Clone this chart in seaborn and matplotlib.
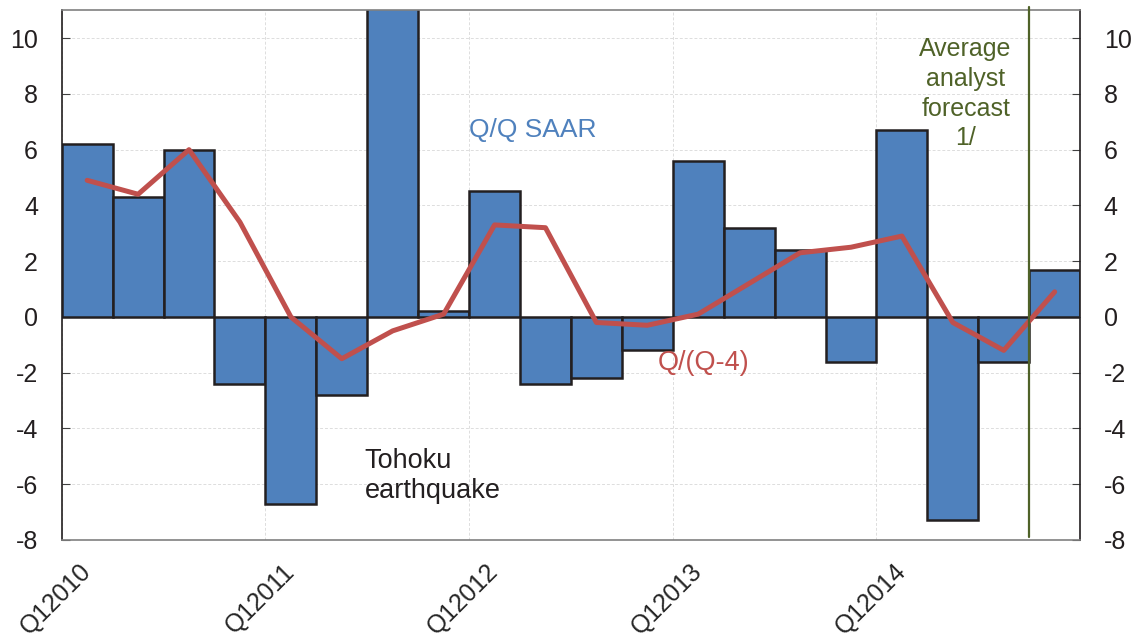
import numpy as np
import pandas as pd
import matplotlib
matplotlib.use("Agg")
import matplotlib.pyplot as plt
import seaborn as sns

quarters = [f"Q{q}{y}" for y in range(2010, 2015) for q in range(1, 5)]
saar = [6.2, 4.3, 6.0, -2.4, -6.7, -2.8, 11.5, 0.2, 4.5, -2.4,
        -2.2, -1.2, 5.6, 3.2, 2.4, -1.6, 6.7, -7.3, -1.6, 1.7]
yoy = [4.9, 4.4, 6.0, 3.4, 0.0, -1.5, -0.5, 0.1, 3.3, 3.2,
       -0.2, -0.3, 0.1, 1.2, 2.3, 2.5, 2.9, -0.2, -1.2, 0.9]
tick_labels = ["Q12010", "Q12011", "Q12012", "Q12013", "Q12014"]
yticks = [-8, -6, -4, -2, 0, 2, 4, 6, 8, 10]

BLUE = "#4F81BD"
RED = "#C0504D"
GREEN = "#4F6228"
DARK = "#231F20"

sns.set_style("white")
plt.rcParams["font.family"] = ["Liberation Sans", "DejaVu Sans"]

fig = plt.figure(figsize=(11.43, 6.42), dpi=100)
ax = fig.add_axes([0.054, 0.159, 0.891, 0.825])

df = pd.DataFrame({"quarter": quarters, "saar": saar, "yoy": yoy, "pos": np.arange(len(quarters))})

# grid
for y in yticks:
    ax.axhline(y, color="#DDDDDD", lw=0.7, ls=(0, (3, 2)), zorder=0)
for i in range(0, len(quarters), 4):
    ax.axvline(i - 0.5, color="#DDDDDD", lw=0.7, ls=(0, (3, 2)), zorder=0)

sns.barplot(data=df, x="quarter", y="saar", order=quarters, width=1.0,
            color=BLUE, saturation=1, edgecolor=DARK, linewidth=1.8, ax=ax, zorder=2)
sns.lineplot(data=df, x="pos", y="yoy", color=RED, lw=3.6, ax=ax, zorder=3)

ax.set_xlim(-0.5, len(quarters) - 0.5)
ax.set_ylim(-8, 11)
ax.set_xlabel("")
ax.set_ylabel("")

ax.set_xticks(list(range(0, len(quarters), 4)))
ax.set_xticklabels(tick_labels, rotation=45, ha="right", va="center",
                   rotation_mode="anchor", fontsize=18)
ax.tick_params(axis="x", length=0, pad=20)

ax.set_yticks(yticks)
ax.set_yticklabels([str(v) for v in yticks], fontsize=18)
ax.tick_params(axis="y", direction="in", length=6, left=True, right=True,
               labelleft=True, labelright=True, color="#404040", colors="#231F20", pad=17)

for s in ["left", "right"]:
    ax.spines[s].set_color("#231F20")
    ax.spines[s].set_linewidth(1.2)
for s in ["top", "bottom"]:
    ax.spines[s].set_color("#808080")
    ax.spines[s].set_linewidth(1.2)

ax.axvline(18.5, ymin=0.005, ymax=1.007, color=GREEN, lw=1.6, zorder=4, clip_on=False)

ax.text(7.5, 6.7, "Q/Q SAAR", color=BLUE, fontsize=19, ha="left", va="center")
ax.text(11.2, -1.65, "Q/(Q-4)", color=RED, fontsize=19.5, ha="left", va="center")
ax.text(5.45, -5.7, "Tohoku\nearthquake", color=DARK, fontsize=19.5, ha="left", va="center",
        linespacing=1.2)
ax.text(17.25, 8.0, "Average\nanalyst\nforecast\n1/", color=GREEN, fontsize=18, ha="center",
        va="center", linespacing=1.3)

fig.savefig("out.png", dpi=100)
